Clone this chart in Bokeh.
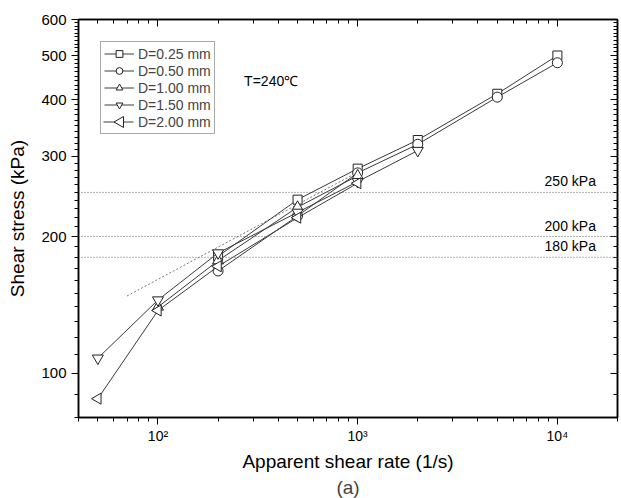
import math
from bokeh.plotting import figure
from bokeh.models import (FixedTicker, LogAxis, Span, Label, Title, Legend, LegendItem,
                          PolyAnnotation)
from bokeh.embed import file_html
from bokeh.resources import INLINE

# ---- data ----
series_names = ["D=0.25 mm", "D=0.50 mm", "D=1.00 mm", "D=1.50 mm", "D=2.00 mm"]
x_d025 = [200, 500, 1000, 2000, 5000, 10000]
y_d025 = [181, 241, 282, 326, 412, 500]
x_d050 = [200, 500, 1000, 2000, 5000, 10000]
y_d050 = [168, 222, 276, 319, 405, 482]
x_d100 = [100, 200, 500, 1000]
y_d100 = [140, 177, 232, 272]
x_d150 = [50, 100, 200, 500, 1000, 2000]
y_d150 = [108, 145, 184, 226, 264, 309]
x_d200 = [50, 100, 200, 500, 1000]
y_d200 = [88, 137.5, 172, 220, 262]

fit_x = [70, 1000]
fit_y = [148, 277]

hline_values = [250, 200, 180]
hline_labels = ["250 kPa", "200 kPa", "180 kPa"]

x_major = [100, 1000, 10000]
x_major_labels = {100: "10\u00b2", 1000: "10\u00b3", 10000: "10\u2074"}
y_major = [100, 200, 300, 400, 500, 600]

FONT = "Liberation Sans"

x_minor = [m * d for d in (10, 100, 1000, 10000) for m in range(2, 10) if 40 <= m * d <= 20000]
y_minor = [v for v in range(80, 600, 10) if v not in y_major]

p = figure(width=621, height=498, x_axis_type="log", y_axis_type="log",
           x_range=(40, 20000), y_range=(80, 600),
           output_backend="svg", toolbar_location=None,
           min_border_left=78, min_border_right=4, min_border_top=19, min_border_bottom=81)
p.xgrid.visible = False
p.ygrid.visible = False
p.outline_line_color = "black"
p.outline_line_width = 1.5
p.background_fill_color = "white"
p.border_fill_color = "white"

xt = FixedTicker(ticks=x_major, minor_ticks=x_minor)
xt2 = FixedTicker(ticks=x_major, minor_ticks=x_minor)
yt = FixedTicker(ticks=y_major, minor_ticks=y_minor)
yt2 = FixedTicker(ticks=y_major, minor_ticks=y_minor)

xa = p.xaxis[0]
xa.ticker = xt
xa.major_label_overrides = x_major_labels
xa.axis_label = "Apparent shear rate (1/s)"
ya = p.yaxis[0]
ya.ticker = yt
ya.axis_label = "Shear stress (kPa)"

for ax in (xa, ya):
    ax.axis_line_color = "black"
    ax.axis_line_width = 1.5
    ax.major_tick_line_color = "black"
    ax.minor_tick_line_color = "black"
    ax.major_tick_out = 7
    ax.major_tick_in = 0
    ax.minor_tick_out = 4
    ax.minor_tick_in = 0
    ax.major_label_text_font = FONT
    ax.major_label_text_color = "black"
    ax.axis_label_text_font = FONT
    ax.axis_label_text_font_style = "normal"
    ax.axis_label_text_font_size = "19px"
    ax.axis_label_text_color = "black"
xa.major_label_text_font_size = "14px"
ya.major_label_text_font_size = "15px"
xa.major_label_standoff = 3
ya.major_label_standoff = 5
xa.axis_label_standoff = 4
ya.axis_label_standoff = 10

# mirrored axes (ticks inward, hidden labels)
for loc, tk in (("above", xt2), ("right", yt2)):
    m_ax = LogAxis(ticker=tk)
    m_ax.major_label_text_font_size = "1px"
    m_ax.major_label_text_alpha = 0
    m_ax.major_label_standoff = 0
    m_ax.axis_line_color = "black"
    m_ax.axis_line_width = 1.5
    m_ax.major_tick_out = 0
    m_ax.major_tick_in = 7
    m_ax.minor_tick_out = 0
    m_ax.minor_tick_in = 4
    m_ax.major_tick_line_color = "black"
    m_ax.minor_tick_line_color = "black"
    p.add_layout(m_ax, loc)

# reference lines
for v, t in zip(hline_values, hline_labels):
    p.add_layout(Span(location=v, dimension="width", line_color="#666666",
                      line_dash="1 2", line_width=1))
    p.add_layout(Label(x=15600, y=v, text=t, text_align="right", text_baseline="bottom",
                       y_offset=3, text_font=FONT, text_font_size="14px", text_color="black"))

p.line(fit_x, fit_y, line_color="#777777", line_dash="2 2", line_width=1)

xs = [x_d025, x_d050, x_d100, x_d150, x_d200]
ys = [y_d025, y_d050, y_d100, y_d150, y_d200]
markers = ["square", "circle", "triangle", "inverted_triangle", "triangle"]
angles = [0, 0, 0, 0, math.pi / 2]
sizes = [9, 10, 11, 11, 11]

items = []
for i, (name, x, y, m, a, s) in enumerate(zip(series_names, xs, ys, markers, angles, sizes)):
    lr = p.line(x, y, line_color="#3a3a3a", line_width=1)
    sr = p.scatter(x, y, marker=m, angle=a, size=s, line_color="#222222",
                   fill_color="white", line_width=1)
    if a == 0:
        items.append(LegendItem(label=name, renderers=[lr, sr]))
    else:
        # rotated markers are not rotated in legend swatches: use an invisible
        # placeholder and draw the swatch separately below
        ph = p.line(x=[], y=[], line_alpha=0)
        items.append(LegendItem(label=name, renderers=[ph]))

# swatch for the last legend entry (frame-relative screen units), drawn under the
# transparent legend
p.add_layout(PolyAnnotation(xs=[25.0, 55.0], ys=[295.5, 295.5],
                            xs_units="screen", ys_units="screen", level="overlay",
                            fill_alpha=0, line_color="#3a3a3a", line_alpha=1, line_width=1))
p.add_layout(PolyAnnotation(xs=[35.5, 45.0, 45.0], ys=[295.5, 301.0, 290.0],
                            xs_units="screen", ys_units="screen", level="overlay",
                            fill_color="white", fill_alpha=1,
                            line_color="#222222", line_alpha=1, line_width=1))

leg = Legend(items=items, location="top_left")
leg.margin = 22
leg.padding = 3
leg.spacing = 0
leg.glyph_width = 30
leg.glyph_height = 17
leg.label_height = 17
leg.label_standoff = 4
leg.label_text_font = FONT
leg.label_text_font_size = "14px"
leg.border_line_color = "#555555"
leg.border_line_width = 1
leg.background_fill_alpha = 0
p.add_layout(leg)

p.add_layout(Label(x=270, y=440, text="T=240\u2103", text_baseline="middle",
                   text_font=FONT, text_font_size="14px", text_color="black"))

p.add_layout(Title(text="(a)", align="center", text_font=FONT, text_font_size="19px",
                   text_font_style="normal", standoff=0), "below")

open("out.html", "w").write(file_html(p, INLINE))
